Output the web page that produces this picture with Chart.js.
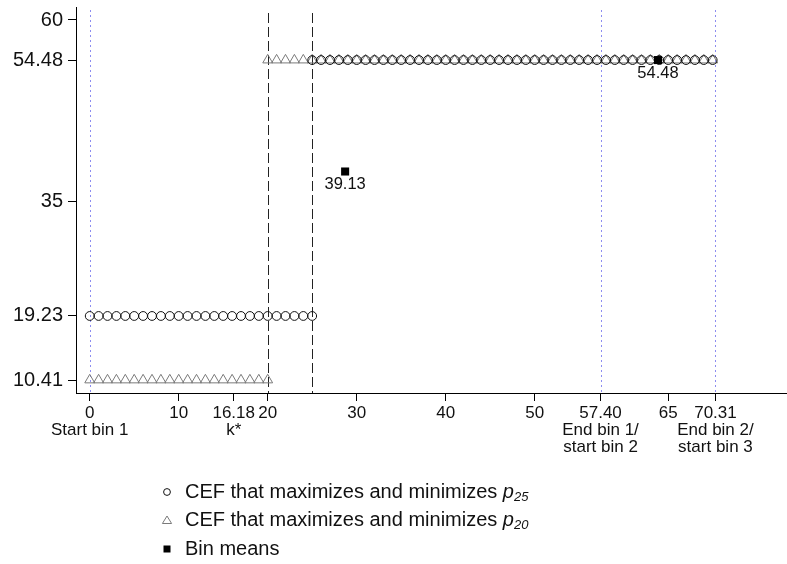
<!DOCTYPE html>
<html>
<head>
<meta charset="utf-8">
<script src="https://cdn.jsdelivr.net/npm/chart.js@4.4.0/dist/chart.umd.min.js"></script>
<style>
  html, body { margin: 0; padding: 0; background: #fff; }
  #wrap { width: 787px; height: 564px; }
</style>
</head>
<body>
<div id="wrap"><canvas id="cefChart" width="787" height="564"></canvas></div>
<script>
const FONT = "'Liberation Sans', Arial, Helvetica, sans-serif";

// grid of k values where each CEF is evaluated
const gridP25Low  = [0, 1, 2, 3, 4, 5, 6, 7, 8, 9, 10, 11, 12, 13, 14, 15, 16, 17, 18, 19, 20, 21, 22, 23, 24, 25];
const gridP25High = [25, 26, 27, 28, 29, 30, 31, 32, 33, 34, 35, 36, 37, 38, 39, 40, 41, 42, 43, 44, 45, 46, 47,
                     48, 49, 50, 51, 52, 53, 54, 55, 56, 57, 58, 59, 60, 61, 62, 63, 64, 65, 66, 67, 68, 69, 70];
const gridP20Low  = [0, 1, 2, 3, 4, 5, 6, 7, 8, 9, 10, 11, 12, 13, 14, 15, 16, 17, 18, 19, 20];
const gridP20High = [20, 21, 22, 23, 24, 25, 26, 27, 28, 29, 30, 31, 32, 33, 34, 35, 36, 37, 38, 39, 40, 41, 42, 43, 44, 45, 46, 47,
                     48, 49, 50, 51, 52, 53, 54, 55, 56, 57, 58, 59, 60, 61, 62, 63, 64, 65, 66, 67, 68, 69, 70];

// CEF levels (low segment, high segment)
const levelsP25 = [19.23, 54.48];
const levelsP20 = [10.41, 54.48];

// bin means
const binMeanX = [28.70, 63.855];
const binMeanY = [39.13, 54.48];

// axis ticks
const xTickValues = [0, 10, 16.18, 20, 30, 40, 50, 57.40, 65, 70.31];
const xTickLabels = [['0', 'Start bin 1'], '10', ['16.18', 'k*'], '20', '30', '40', '50',
                     ['57.40', 'End bin 1/', 'start bin 2'], '65', ['70.31', 'End bin 2/', 'start bin 3']];
const yTickValues = [10.41, 19.23, 35, 54.48, 60];
const yTickLabels = ['10.41', '19.23', '35', '54.48', '60'];

// reference lines
const dashedLinesX = [20, 25];
const dottedLinesX = [0, 57.40, 70.31];

const legendRows = [
  { style: 'circle', text: 'CEF that maximizes and minimizes ', sub: '25' },
  { style: 'triangle', text: 'CEF that maximizes and minimizes ', sub: '20' },
  { style: 'rect', text: 'Bin means', sub: null }
];

const toPoints = (xs, level) => xs.map(x => ({ x: x, y: level }));

const circleStyle = {
  pointStyle: 'circle', pointRadius: 4.4, pointBorderWidth: 1,
  pointBorderColor: '#111', pointBackgroundColor: 'rgba(0,0,0,0)', showLine: false
};
const triangleStyle = {
  pointStyle: 'triangle', pointRadius: 5.7, pointBorderWidth: 1,
  pointBorderColor: '#7a7a7a', pointBackgroundColor: 'rgba(0,0,0,0)', showLine: false
};

// vertical reference lines, drawn under the markers
const refLines = {
  id: 'refLines',
  beforeDatasetsDraw(chart) {
    const { ctx, chartArea, scales } = chart;
    ctx.save();
    ctx.lineWidth = 1;
    ctx.strokeStyle = '#8c8cf0';
    ctx.setLineDash([2, 3]);
    dottedLinesX.forEach(v => {
      const px = Math.round(scales.x.getPixelForValue(v)) + 0.5;
      ctx.beginPath();
      ctx.moveTo(px, chartArea.top + 3);
      ctx.lineTo(px, chartArea.bottom);
      ctx.stroke();
    });
    ctx.strokeStyle = '#222';
    ctx.setLineDash([10, 4]);
    dashedLinesX.forEach(v => {
      const px = Math.round(scales.x.getPixelForValue(v)) + 0.5;
      ctx.beginPath();
      ctx.moveTo(px, chartArea.top + 6);
      ctx.lineTo(px, chartArea.bottom);
      ctx.stroke();
    });
    ctx.restore();
  }
};

// value labels under the bin-mean squares
const binLabels = {
  id: 'binLabels',
  afterDatasetsDraw(chart) {
    const { ctx } = chart;
    const meta = chart.getDatasetMeta(0);
    ctx.save();
    ctx.font = '16.5px ' + FONT;
    ctx.fillStyle = '#111';
    ctx.textAlign = 'center';
    ctx.textBaseline = 'middle';
    meta.data.forEach((pt, i) => {
      ctx.fillText(binMeanY[i].toFixed(2), pt.x, pt.y + 13);
    });
    ctx.restore();
  }
};

// legend under the plot with italic p and subscript
const legendBelow = {
  id: 'legendBelow',
  afterDraw(chart) {
    const { ctx } = chart;
    const rowY = [492, 520, 549];
    const markerX = 167, textX = 185;
    ctx.save();
    ctx.lineWidth = 1;
    legendRows.forEach((row, i) => {
      const y = rowY[i];
      if (row.style === 'circle') {
        ctx.strokeStyle = '#111';
        ctx.beginPath();
        ctx.arc(markerX, y, 3.4, 0, Math.PI * 2);
        ctx.stroke();
      } else if (row.style === 'triangle') {
        ctx.strokeStyle = '#7a7a7a';
        ctx.beginPath();
        ctx.moveTo(markerX, y - 4);
        ctx.lineTo(markerX + 4.6, y + 3.5);
        ctx.lineTo(markerX - 4.6, y + 3.5);
        ctx.closePath();
        ctx.stroke();
      } else {
        ctx.fillStyle = '#000';
        ctx.fillRect(markerX - 3.5, y - 3.5, 7, 7);
      }
      ctx.fillStyle = '#111';
      ctx.textBaseline = 'middle';
      ctx.textAlign = 'left';
      ctx.font = '20px ' + FONT;
      ctx.fillText(row.text, textX, y);
      if (row.sub) {
        let x = textX + ctx.measureText(row.text).width;
        ctx.font = 'italic 20px ' + FONT;
        ctx.fillText('p', x, y);
        x += ctx.measureText('p').width;
        ctx.font = 'italic 13px ' + FONT;
        ctx.fillText(row.sub, x, y + 5);
      }
    });
    ctx.restore();
  }
};

new Chart(document.getElementById('cefChart').getContext('2d'), {
  type: 'scatter',
  data: {
    datasets: [
      {
        label: 'Bin means',
        data: binMeanX.map((x, i) => ({ x: x, y: binMeanY[i] })),
        pointStyle: 'rect', pointRadius: 5.7, pointBorderWidth: 0,
        pointBackgroundColor: '#000', pointBorderColor: '#000', showLine: false
      },
      Object.assign({ label: 'p25 low', data: toPoints(gridP25Low, levelsP25[0]) }, circleStyle),
      Object.assign({ label: 'p25 high', data: toPoints(gridP25High, levelsP25[1]) }, circleStyle),
      Object.assign({ label: 'p20 low', data: toPoints(gridP20Low, levelsP20[0]) }, triangleStyle),
      Object.assign({ label: 'p20 high', data: toPoints(gridP20High, levelsP20[1]) }, triangleStyle)
    ]
  },
  options: {
    responsive: false,
    animation: false,
    devicePixelRatio: 1,
    events: [],
    layout: { autoPadding: false, padding: { top: 7, right: 0, bottom: 91, left: 0 } },
    plugins: {
      legend: { display: false },
      tooltip: { enabled: false }
    },
    scales: {
      x: {
        type: 'linear',
        min: -1.54,
        max: 78.35,
        afterBuildTicks: axis => { axis.ticks = xTickValues.map(v => ({ value: v })); },
        afterFit: axis => {
          axis.height = 80;
          axis.paddingLeft = 0;
          axis.paddingRight = 0;
        },
        grid: { display: true, drawOnChartArea: false, drawTicks: true, tickLength: 8, tickColor: '#000', tickWidth: 1 },
        border: { display: true, color: '#000', width: 1 },
        ticks: {
          autoSkip: false,
          maxRotation: 0,
          minRotation: 0,
          padding: 4,
          color: '#111',
          font: { family: FONT, size: 17, lineHeight: 1.0 },
          callback: (value, index) => xTickLabels[index]
        }
      },
      y: {
        type: 'linear',
        min: 8.62,
        max: 61.79,
        afterBuildTicks: axis => { axis.ticks = yTickValues.map(v => ({ value: v })); },
        afterFit: axis => {
          axis.width = 76;
          axis.paddingTop = 0;
          axis.paddingBottom = 0;
        },
        grid: { display: true, drawOnChartArea: false, drawTicks: true, tickLength: 8, tickColor: '#000', tickWidth: 1 },
        border: { display: true, color: '#000', width: 1 },
        ticks: {
          autoSkip: false,
          padding: 5,
          color: '#111',
          font: { family: FONT, size: 20 },
          callback: (value, index) => yTickLabels[index]
        }
      }
    }
  },
  plugins: [refLines, binLabels, legendBelow]
});
</script>
</body>
</html>
